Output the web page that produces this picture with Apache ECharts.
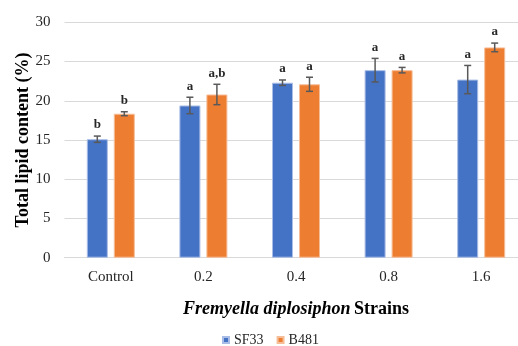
<!DOCTYPE html>
<html>
<head>
<meta charset="utf-8">
<script src="https://cdn.jsdelivr.net/npm/echarts@6/dist/echarts.min.js"></script>
<style>html,body{margin:0;padding:0;background:#fff;}#c{width:518px;height:346px;}</style>
</head>
<body>
<div id="c"></div>
<script>
const categories = ['Control', '0.2', '0.4', '0.8', '1.6'];
const sf33 = [15.1, 19.4, 22.3, 23.9, 22.7];
const b481 = [18.35, 20.8, 22.1, 23.9, 26.8];
const sf33Err = [0.4, 1.05, 0.35, 1.5, 1.8];
const b481Err = [0.25, 1.3, 0.9, 0.35, 0.55];
const sf33Sig = ['b', 'a', 'a', 'a', 'a'];
const b481Sig = ['b', 'a,b', 'a', 'a', 'a'];
const yTicks = [0, 5, 10, 15, 20, 25, 30];

const serif = '"Liberation Serif", "Times New Roman", serif';
const BAR_W = 21, BAR_GAP = 6;

function errSeries(values, errs, sig, side) {
  return {
    type: 'custom',
    z: 10,
    silent: true,
    data: values.map((v, i) => [i, v, errs[i], sig[i]]),
    renderItem: function (params, api) {
      const i = api.value(0), v = api.value(1), e = api.value(2);
      const off = side * (BAR_W + BAR_GAP) / 2;
      const top = api.coord([i, v + e]);
      const bot = api.coord([i, v - e]);
      const x = top[0] + off;
      const cap = 3.5;
      const st = { stroke: '#595959', lineWidth: 1.5 };
      return {
        type: 'group',
        children: [
          { type: 'line', shape: { x1: x, y1: top[1], x2: x, y2: bot[1] }, style: st },
          { type: 'line', shape: { x1: x - cap, y1: top[1], x2: x + cap, y2: top[1] }, style: st },
          { type: 'line', shape: { x1: x - cap, y1: bot[1], x2: x + cap, y2: bot[1] }, style: st },
          { type: 'text', style: { x: x, y: top[1] - 11, text: api.value(3), align: 'center', verticalAlign: 'middle',
              font: 'bold 13px ' + serif, fill: '#262626' } }
        ]
      };
    }
  };
}

const chart = echarts.init(document.getElementById('c'), null, { renderer: 'canvas' });
chart.setOption({
  animation: false,
  grid: { left: 64.5, top: 22.3, bottom: 88.3, right: -9.5, containLabel: false, outerBoundsMode: 'none' },
  legend: {
    left: 222, top: 333, padding: 0,
    itemWidth: 6, itemHeight: 6, itemGap: 13,
    icon: 'rect',
    textStyle: { fontFamily: serif, fontSize: 14, color: '#262626' },
    data: ['SF33', 'B481']
  },
  xAxis: {
    type: 'category',
    data: categories,
    axisTick: { show: false },
    axisLine: { show: true, lineStyle: { color: '#d9d9d9', width: 1 } },
    axisLabel: { fontFamily: serif, fontSize: 15, color: '#262626', margin: 12 },
    name: '{i|Fremyella diplosiphon} {b|Strains}',
    nameLocation: 'middle',
    nameGap: 43,
    nameMoveOverlap: false,
    nameTextStyle: {
      rich: {
        i: { fontFamily: serif, fontSize: 18, fontWeight: 'bold', fontStyle: 'italic', color: '#000' },
        b: { fontFamily: serif, fontSize: 18, fontWeight: 'bold', color: '#000' }
      }
    }
  },
  yAxis: {
    type: 'value',
    min: yTicks[0], max: yTicks[yTicks.length - 1], interval: yTicks[1] - yTicks[0],
    axisLine: { show: false },
    axisTick: { show: false },
    splitLine: { lineStyle: { color: '#d9d9d9', width: 1 } },
    axisLabel: { fontFamily: serif, fontSize: 15, color: '#262626', margin: 14 },
    name: 'Total lipid content (%)',
    nameLocation: 'middle',
    nameGap: 32,
    nameMoveOverlap: false,
    nameTextStyle: { fontFamily: serif, fontSize: 18, fontWeight: 'bold', color: '#000' }
  },
  series: [
    {
      name: 'SF33', type: 'bar', data: sf33, barWidth: BAR_W, barGap: (BAR_GAP / BAR_W * 100) + '%',
      itemStyle: { color: '#4472C4', borderColor: '#a9bde6', borderWidth: 1 }
    },
    {
      name: 'B481', type: 'bar', data: b481, barWidth: BAR_W,
      itemStyle: { color: '#ED7D31', borderColor: '#f6be98', borderWidth: 1 }
    },
    errSeries(sf33, sf33Err, sf33Sig, -1),
    errSeries(b481, b481Err, b481Sig, 1)
  ]
});
</script>
</body>
</html>
